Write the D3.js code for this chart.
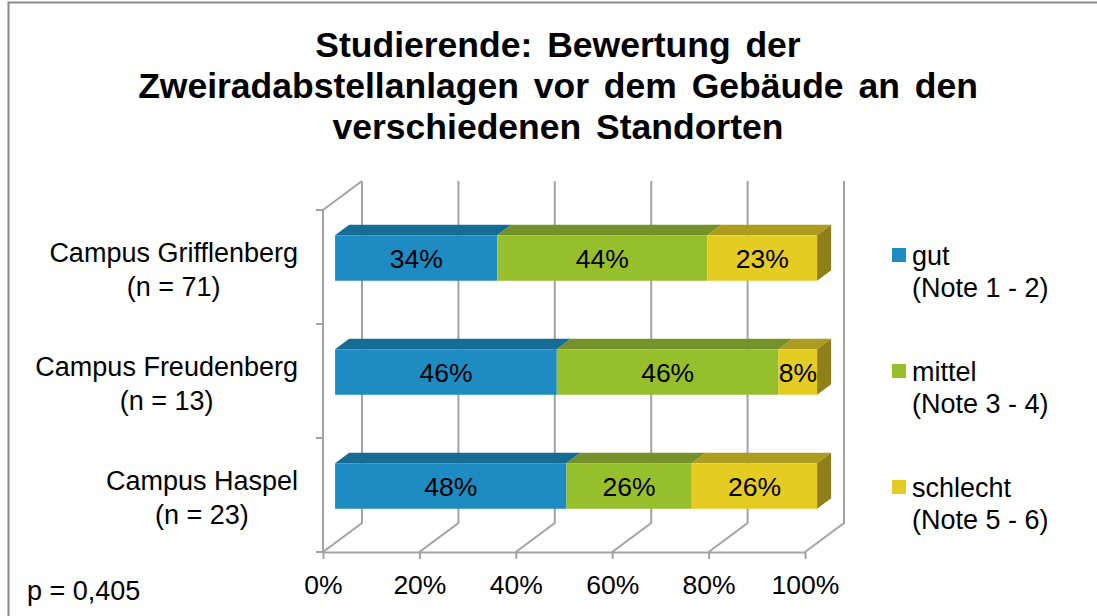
<!DOCTYPE html>
<html>
<head>
<meta charset="utf-8">
<script src="https://cdn.jsdelivr.net/npm/d3@7"></script>
<style>
  body { margin: 0; background: #fff; }
  text { font-family: "Liberation Sans", Arial, sans-serif; fill: #000; }
</style>
</head>
<body>
<div id="d3-container"></div>
<script>

// data
const categories = ["Campus Grifflenberg", "Campus Freudenberg", "Campus Haspel"];
const sampleSizes = ["(n = 71)", "(n = 13)", "(n = 23)"];
const seriesNames = ["gut", "mittel", "schlecht"];
const seriesNotes = ["(Note 1 - 2)", "(Note 3 - 4)", "(Note 5 - 6)"];
const gut = [34, 46, 48];
const mittel = [44, 46, 26];
const schlecht = [23, 8, 26];
const xTicks = [0, 0.2, 0.4, 0.6, 0.8, 1];
const titleLines = ["Studierende: Bewertung der", "Zweiradabstellanlagen vor dem Gebäude an den", "verschiedenen Standorten"];
const pValue = "p = 0,405";

const frontColors = { gut: "#1e8bc3", mittel: "#97bf2c", schlecht: "#e5cc22" };
const topColors = { gut: "#176c96", mittel: "#74912a", schlecht: "#ae9c1f" };
const sideColor = "#8e7f18";

const width = 1097, height = 616;
const plot = { left: 323, right: 805, top: 210, bottom: 552 };
const depthX = 39, depthY = -29;   // offset of back wall
const zFront = 0.31, zBack = 0.67; // bar position inside the depth

const table = categories.map((c, i) => ({ cat: c, gut: gut[i], mittel: mittel[i], schlecht: schlecht[i] }));
const stacked = d3.stack().keys(seriesNames).offset(d3.stackOffsetExpand)(table);

const xScale = d3.scaleLinear().domain([0, 1]).range([plot.left, plot.right]);
const yScale = d3.scaleBand()
    .domain(categories)
    .range([plot.top, plot.bottom])
    .paddingInner(0.6)
    .paddingOuter(0.3);

const proj = (xv, yv, z) => [xScale(xv) + z * depthX, yv + z * depthY];

const svg = d3.select("#d3-container")
    .append("svg")
    .attr("width", width)
    .attr("height", height);

svg.append("rect").attr("width", width).attr("height", height).attr("fill", "#fff");

// outer frame
svg.append("path")
    .attr("d", "M8.5," + height + "V2.5H" + width)
    .attr("fill", "none")
    .attr("stroke", "#8a8a8a")
    .attr("stroke-width", 2);

// title
svg.append("g")
    .selectAll("text")
    .data(titleLines)
    .join("text")
    .attr("x", 558)
    .attr("y", (d, i) => 57 + i * 41)
    .attr("text-anchor", "middle")
    .attr("font-size", 35.5)
    .attr("font-weight", "bold")
    .attr("word-spacing", 5)
    .text(d => d);

// 3d walls and grid
const grid = svg.append("g")
    .attr("fill", "none")
    .attr("stroke", "#a3a3a3")
    .attr("stroke-width", 2);

grid.selectAll(".back")
    .data(xTicks)
    .join("path")
    .attr("d", d => {
        const a = proj(d, plot.bottom, 0), b = proj(d, plot.bottom, 1), c = proj(d, plot.top, 1);
        return "M" + a + "L" + b + "L" + c;
    });

grid.append("path")
    .attr("d", "M" + proj(0, plot.bottom, 0) + "L" + proj(0, plot.top, 0) + "L" + proj(0, plot.top, 1));

// y ticks at category borders
const yTickPos = d3.range(categories.length + 1).map(i => plot.top + i * yScale.step());
grid.selectAll(".ytick")
    .data(yTickPos)
    .join("path")
    .attr("d", d => "M" + (plot.left - 7) + "," + d + "H" + plot.left);

// x axis
const xAxis = d3.axisBottom(xScale)
    .tickValues(xTicks)
    .tickFormat(d3.format(".0%"))
    .tickSize(7)
    .tickSizeOuter(0)
    .tickPadding(16);

const gx = svg.append("g")
    .attr("transform", "translate(0," + plot.bottom + ")")
    .call(xAxis);
gx.select(".domain").attr("stroke", "#a3a3a3").attr("stroke-width", 2);
gx.selectAll(".tick line").attr("stroke", "#a3a3a3").attr("stroke-width", 2);
gx.selectAll(".tick text")
    .attr("font-size", 26.5)
    .attr("font-family", "Liberation Sans, Arial, sans-serif")
    .attr("fill", "#000");

// category labels
const catLabels = svg.append("g").selectAll("g")
    .data(categories)
    .join("g");

catLabels.each(function (d, i) {
    const g = d3.select(this);
    const cy = yScale(d) + yScale.bandwidth() / 2;
    const l1 = g.append("text").attr("y", cy - 15 + 9.5).attr("font-size", 27).attr("text-anchor", "middle").text(d);
    const l2 = g.append("text").attr("y", cy + 19 + 9.5).attr("font-size", 27).attr("text-anchor", "middle").text(sampleSizes[i]);
    const w = Math.max(l1.node().getComputedTextLength(), l2.node().getComputedTextLength());
    const cx = 298 - w / 2;
    l1.attr("x", cx);
    l2.attr("x", cx);
});

// bars
const poly = pts => "M" + pts.join("L") + "Z";

const layers = svg.append("g")
    .selectAll("g")
    .data(stacked)
    .join("g");

layers.each(function (layer, k) {
    const g = d3.select(this);
    const key = layer.key;
    const last = k === stacked.length - 1;
    layer.forEach(d => {
        const y0 = yScale(d.data.cat), y1 = y0 + yScale.bandwidth();
        g.append("path")
            .attr("d", poly([proj(d[0], y0, zFront), proj(d[0], y0, zBack), proj(d[1], y0, zBack), proj(d[1], y0, zFront)]))
            .attr("fill", topColors[key]);
        if (last) {
            g.append("path")
                .attr("d", poly([proj(d[1], y0, zFront), proj(d[1], y0, zBack), proj(d[1], y1, zBack), proj(d[1], y1, zFront)]))
                .attr("fill", sideColor);
        }
        g.append("path")
            .attr("d", poly([proj(d[0], y0, zFront), proj(d[1], y0, zFront), proj(d[1], y1, zFront), proj(d[0], y1, zFront)]))
            .attr("fill", frontColors[key]);
    });
});

// value labels
layers.selectAll("text")
    .data(layer => layer.map(d => ({ d: d, key: layer.key })))
    .join("text")
    .attr("x", o => (xScale(o.d[0]) + xScale(o.d[1])) / 2 + zFront * depthX)
    .attr("y", o => yScale(o.d.data.cat) + yScale.bandwidth() / 2 + zFront * depthY)
    .attr("dy", "0.36em")
    .attr("text-anchor", "middle")
    .attr("font-size", 26.5)
    .text(o => o.d.data[o.key] + "%");

// legend
const legend = svg.append("g")
    .selectAll("g")
    .data(seriesNames)
    .join("g")
    .attr("transform", (d, i) => "translate(892," + (255 + i * 116) + ")");

legend.append("rect")
    .attr("y", -7)
    .attr("width", 14)
    .attr("height", 14)
    .attr("fill", d => frontColors[d]);

legend.append("text")
    .attr("x", 20)
    .attr("y", 9.5)
    .attr("font-size", 27)
    .text(d => d);

legend.append("text")
    .attr("x", 20)
    .attr("y", 41.5)
    .attr("font-size", 27)
    .text((d, i) => seriesNotes[i]);

svg.append("text")
    .attr("x", 27)
    .attr("y", 600)
    .attr("font-size", 27)
    .text(pValue);

</script>
</body>
</html>
